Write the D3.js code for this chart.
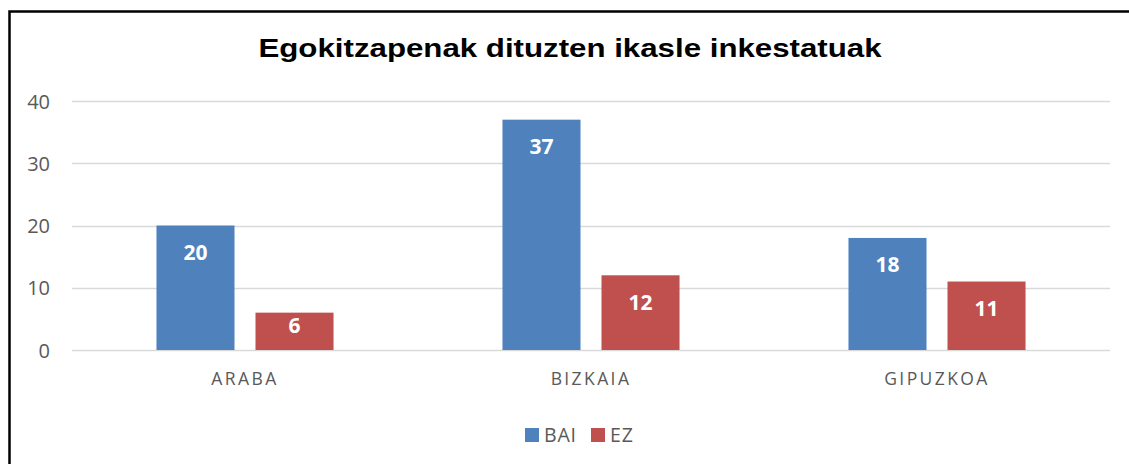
<!DOCTYPE html>
<html>
<head>
<meta charset="utf-8">
<script src="https://cdn.jsdelivr.net/npm/d3@7"></script>
<style>
    body { margin: 0; background: #fff; }
    svg { display: block; }
    .tick-label, .cat-label, .legend-label { fill: #595959; font-family: "Open Sans", sans-serif; }
    .value-label { fill: #fff; font-family: "Open Sans", sans-serif; font-weight: bold; }
</style>
</head>
<body>
<div id="viewport"></div>
<script>
const categories = ["ARABA", "BIZKAIA", "GIPUZKOA"];
const seriesNames = ["BAI", "EZ"];
const baiValues = [20, 37, 18];
const ezValues = [6, 12, 11];
const yTicks = [0, 10, 20, 30, 40];
const title = "Egokitzapenak dituzten ikasle inkestatuak";

const colors = { BAI: "#4F81BD", EZ: "#C0504D" };
const width = 1129, height = 464;
const plot = { left: 72, right: 1110, top: 101, bottom: 350 };

const svg = d3.select("#viewport").append("svg")
    .attr("width", width)
    .attr("height", height);

// chart frame (right and bottom edges run past the picture)
svg.append("rect")
    .attr("x", 9.5).attr("y", 11.5)
    .attr("width", 1300).attr("height", 600)
    .attr("fill", "#fff")
    .attr("stroke", "#000")
    .attr("stroke-width", 2.5);

// the reference title is drawn wide, so stretch it horizontally
svg.append("text")
    .attr("transform", "translate(570,57) scale(1.25,1)")
    .attr("text-anchor", "middle")
    .attr("font-family", "Liberation Sans, Arial, sans-serif")
    .attr("font-weight", "bold")
    .attr("font-size", 25)
    .attr("fill", "#000")
    .text(title);

const y = d3.scaleLinear().domain([0, 40]).range([plot.bottom, plot.top]);
const x = d3.scaleBand().domain(categories).range([plot.left, plot.right]);
const xs = d3.scaleBand().domain(seriesNames)
    .range([0, x.bandwidth()])
    .paddingInner(0.212)
    .paddingOuter(0.853);

// gridlines
svg.append("g").selectAll("line")
    .data(yTicks)
    .join("line")
    .attr("x1", plot.left).attr("x2", plot.right)
    .attr("y1", d => Math.round(y(d)) + 0.5)
    .attr("y2", d => Math.round(y(d)) + 0.5)
    .attr("stroke", "#D9D9D9")
    .attr("stroke-width", 1.5);

// y axis labels
const yAxis = svg.append("g")
    .attr("transform", `translate(${plot.left},0)`)
    .call(d3.axisLeft(y).tickValues(yTicks).tickSize(0).tickPadding(22));
yAxis.select(".domain").remove();
yAxis.selectAll("text")
    .attr("class", "tick-label")
    .attr("font-size", 20)
    .attr("fill", "#595959")
    .attr("dy", "0.35em");

// x axis labels
const xAxis = svg.append("g")
    .attr("transform", `translate(0,${plot.bottom})`)
    .call(d3.axisBottom(x).tickSize(0).tickPadding(23));
xAxis.select(".domain").remove();
xAxis.selectAll("text")
    .attr("class", "cat-label")
    .attr("font-size", 17.5)
    .attr("letter-spacing", 2.4)
    .attr("fill", "#595959");

const rows = categories.flatMap((c, i) => [
    { cat: c, key: "BAI", value: baiValues[i] },
    { cat: c, key: "EZ", value: ezValues[i] }
]);

const bars = svg.append("g").selectAll("g")
    .data(rows)
    .join("g");

bars.append("rect")
    .attr("x", d => x(d.cat) + xs(d.key))
    .attr("y", d => y(d.value))
    .attr("width", xs.bandwidth())
    .attr("height", d => y(0) - y(d.value))
    .attr("fill", d => colors[d.key]);

bars.append("text")
    .attr("class", "value-label")
    .attr("x", d => x(d.cat) + xs(d.key) + xs.bandwidth() / 2)
    .attr("y", d => Math.min(y(d.value) + 27, (y(d.value) + y(0)) / 2 - 6))
    .attr("dy", "0.35em")
    .attr("text-anchor", "middle")
    .attr("font-size", 21)
    .text(d => d.value);

// legend
const legend = svg.append("g").attr("transform", "translate(525,428)");
const legendX = [0, 66];
seriesNames.forEach((s, i) => {
    const item = legend.append("g").attr("transform", `translate(${legendX[i]},0)`);
    item.append("rect")
        .attr("width", 14).attr("height", 14)
        .attr("fill", colors[s]);
    item.append("text")
        .attr("class", "legend-label")
        .attr("x", 19).attr("y", 7)
        .attr("dy", "0.35em")
        .attr("font-size", 19.5)
        .attr("letter-spacing", 0.8)
        .text(s);
});
</script>
</body>
</html>
